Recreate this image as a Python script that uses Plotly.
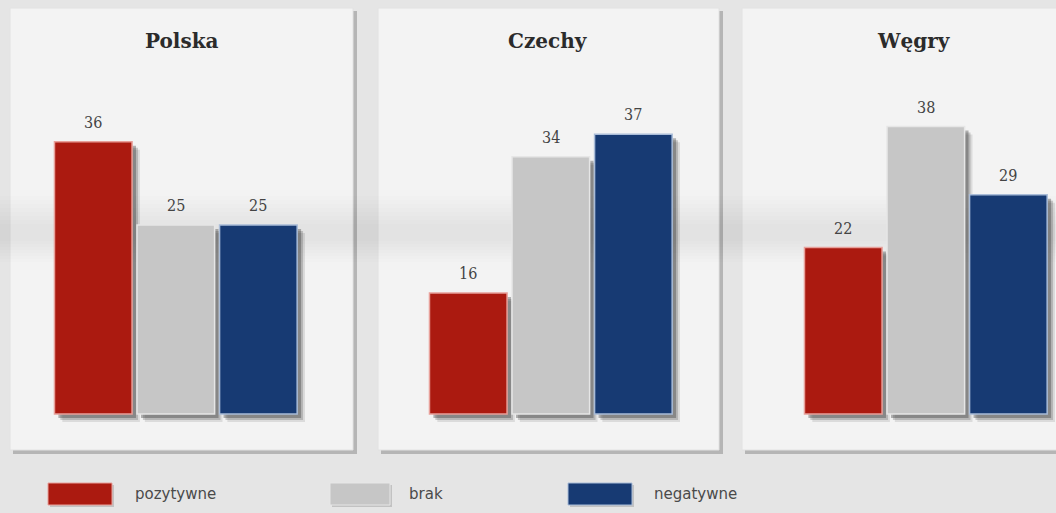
import plotly.graph_objects as go

# --- data ---------------------------------------------------------------
countries = ["Polska", "Czechy", "Węgry"]
series = ["pozytywne", "brak", "negatywne"]
pozytywne = [36, 16, 22]
brak = [25, 34, 38]
negatywne = [25, 37, 29]

colors = {"pozytywne": "#ab1a10", "brak": "#c6c6c6", "negatywne": "#173a73"}
edge = {"pozytywne": "#e8a09a", "brak": "#e6e6e6", "negatywne": "#a9bcd8"}

W, H = 1056, 513


def fx(x):
    return x / W


def fy(y):
    return 1 - y / H


# panel frames (pixels) and bar-area domains (pixels)
panels = [(10, 353), (378, 719), (742, 1070)]
title_x = [182, 548, 914]
domains = [(52, 305), (427, 680), (802, 1055)]
Y_RANGE = [-2, 48]
y_dom = [fy(429), fy(51)]

values = {"pozytywne": pozytywne, "brak": brak, "negatywne": negatywne}

fig = go.Figure()
BAR_W = 0.94
cat_px = (domains[0][1] - domains[0][0]) / 3
unit_px = (429 - 51) / (Y_RANGE[1] - Y_RANGE[0])

for i, country in enumerate(countries):
    sfx = "" if i == 0 else str(i + 1)
    xa, ya = "x" + sfx, "y" + sfx
    vals = [values[s][i] for s in series]
    # soft drop shadow: a few offset translucent layers
    for dpx, alpha in [(8, 0.12), (6, 0.22), (4, 0.35)]:
        dx = dpx / cat_px
        dy = dpx / unit_px
        fig.add_trace(go.Bar(
            x=series, y=vals, base=[-dy] * 3,
            width=BAR_W, offset=-BAR_W / 2 + dx,
            marker=dict(color=f"rgba(50,50,50,{alpha})", line=dict(width=0)),
            xaxis=xa, yaxis=ya, showlegend=False, hoverinfo="skip",
        ))
    fig.add_trace(go.Bar(
        x=series, y=vals, width=BAR_W, offset=-BAR_W / 2,
        marker=dict(
            color=[colors[s] for s in series],
            line=dict(color=[edge[s] for s in series], width=1.5),
        ),
        xaxis=xa, yaxis=ya, showlegend=False, name=country,
    ))
    for s, v in zip(series, vals):
        fig.add_annotation(
            x=s, y=v, xref=xa, yref=ya, text=str(v), showarrow=False,
            yanchor="bottom", yshift=8,
            font=dict(family="DejaVu Serif Condensed, DejaVu Serif", size=16,
                      color="#444444"),
        )
    # panel title
    fig.add_annotation(
        x=fx(title_x[i]), y=fy(41), xref="paper", yref="paper",
        xanchor="center", yanchor="middle",
        text=f"<b>{country}</b>", showarrow=False,
        font=dict(family="DejaVu Serif", size=20, color="#2b2b2b"),
    )
    # panel frame with shadow
    x0, x1 = panels[i]
    fig.add_shape(type="rect", xref="paper", yref="paper", layer="below",
                  x0=fx(x0 + 3), x1=fx(x1 + 4), y0=fy(454), y1=fy(11),
                  fillcolor="#b5b5b5", line=dict(width=0))
    fig.add_shape(type="rect", xref="paper", yref="paper", layer="below",
                  x0=fx(x0), x1=fx(x1), y0=fy(450), y1=fy(8),
                  fillcolor="#f3f3f3", line=dict(color="#e2e2e2", width=1))

    d0, d1 = domains[i]
    fig.update_layout(**{
        "xaxis" + sfx: dict(domain=[fx(d0), fx(d1)], visible=False,
                            categoryorder="array", categoryarray=series,
                            fixedrange=True),
        "yaxis" + sfx: dict(domain=y_dom, range=Y_RANGE, visible=False,
                            fixedrange=True),
    })

# faint, soft grey band across the sheet (stacked thin layers)
for k in range(8):
    y0, y1 = 196 + 4 * k, 262 - 3 * k
    fig.add_shape(type="rect", xref="paper", yref="paper", layer="below",
                  x0=0, x1=1, y0=fy(y1), y1=fy(y0),
                  fillcolor="rgba(80,80,80,0.012)", line=dict(width=0))

# legend drawn as swatches + labels
legend_items = [("pozytywne", 48, 112, 133), ("brak", 330, 390, 407),
                ("negatywne", 568, 632, 652)]
for name, sx0, sx1, tx in legend_items:
    fig.add_shape(type="rect", xref="paper", yref="paper",
                  x0=fx(sx0 + 2), x1=fx(sx1 + 2), y0=fy(507), y1=fy(485),
                  fillcolor="rgba(90,90,90,0.25)", line=dict(width=0))
    fig.add_shape(type="rect", xref="paper", yref="paper",
                  x0=fx(sx0), x1=fx(sx1), y0=fy(505), y1=fy(483),
                  fillcolor=colors[name], line=dict(color=edge[name], width=1))
    fig.add_annotation(x=fx(tx), y=fy(494), xref="paper", yref="paper",
                       text=name, showarrow=False, xanchor="left",
                       yanchor="middle",
                       font=dict(family="DejaVu Sans", size=15, color="#4a4a4a"))

fig.update_layout(
    width=W, height=H, barmode="overlay",
    margin=dict(l=0, r=0, t=0, b=0),
    paper_bgcolor="#e5e5e5", plot_bgcolor="rgba(0,0,0,0)",
    showlegend=False,
)

fig.write_html("out.html")
